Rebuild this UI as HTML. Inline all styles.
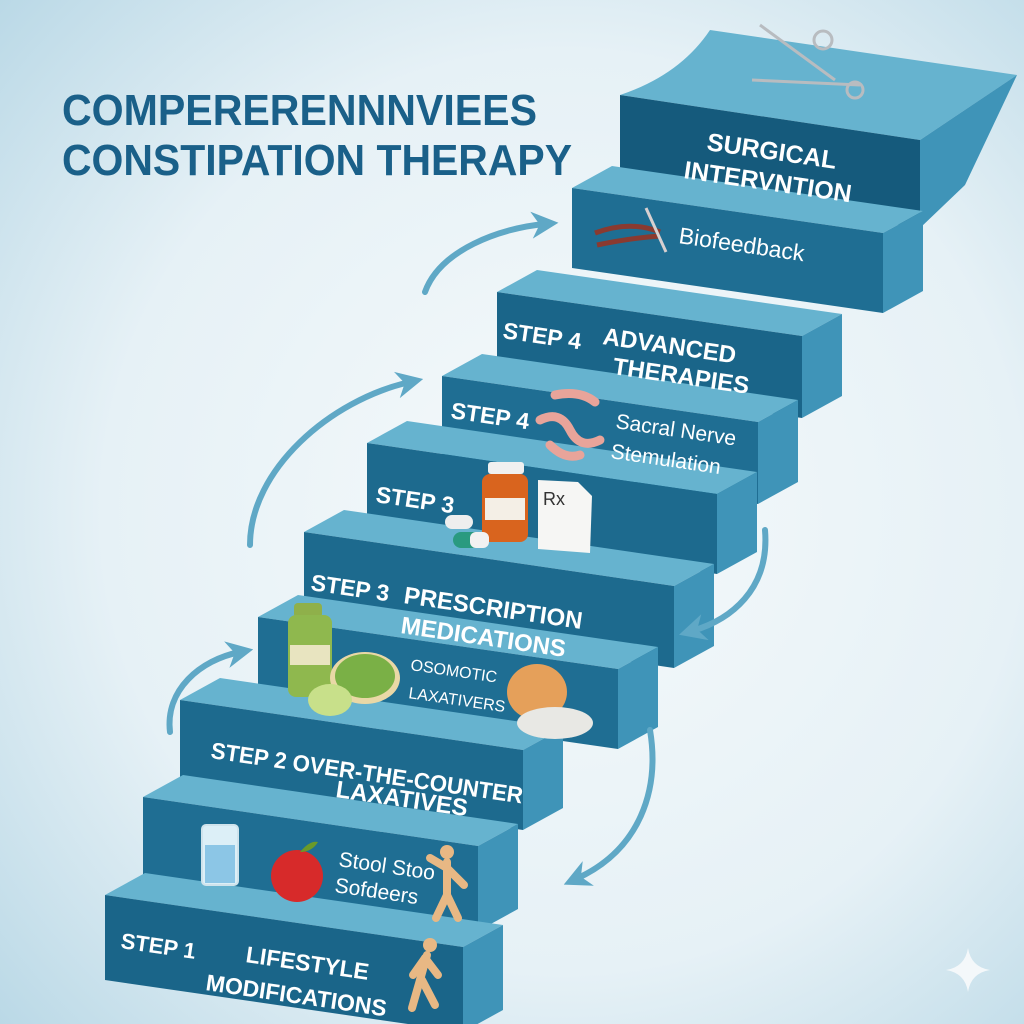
<!DOCTYPE html>
<html><head><meta charset="utf-8"><style>
html,body{margin:0;padding:0;width:1024px;height:1024px;overflow:hidden}
svg{display:block}
text{font-family:"Liberation Sans",sans-serif}
</style></head><body>
<svg width="1024" height="1024" viewBox="0 0 1024 1024" xmlns="http://www.w3.org/2000/svg">
<defs>
<radialGradient id="bg" cx="0.55" cy="0.5" r="0.75">
<stop offset="0" stop-color="#f5f9fb"/><stop offset="0.6" stop-color="#e6f1f6"/><stop offset="1" stop-color="#b9d8e6"/>
</radialGradient>
<marker id="ah" viewBox="0 0 10 10" refX="5" refY="5" markerWidth="4.5" markerHeight="4.5" orient="auto">
<path d="M0,0 L10,5 L0,10 L3,5 Z" fill="#5fa8c6"/>
</marker>
</defs>
<rect width="1024" height="1024" fill="url(#bg)"/>

<!-- title -->
<text x="62" y="125" font-size="44" font-weight="bold" fill="#1a6089" textLength="475" lengthAdjust="spacingAndGlyphs">COMPERERENNNVIEES</text>
<text x="62" y="175" font-size="44" font-weight="bold" fill="#1a6089" textLength="510" lengthAdjust="spacingAndGlyphs">CONSTIPATION THERAPY</text>

<!-- step 10 (top) -->
<path d="M620,95 Q680,75 710,30 L1017,75 L920,140 Z" fill="#66b3cf"/>
<polygon points="920,140 1017,75 965,185 920,228" fill="#3f94b8"/>
<polygon points="620,95 920,140 920,228 620,183" fill="#155a7c"/>
<!-- step 9 -->
<polygon points="572,188 883,233 923,211 612,166" fill="#66b3cf"/>
<polygon points="883,233 923,211 923,291 883,313" fill="#3f94b8"/>
<polygon points="572,188 883,233 883,313 572,268" fill="#1f6e93"/>
<!-- step 8 -->
<polygon points="497,292 802,336 842,314 537,270" fill="#66b3cf"/>
<polygon points="802,336 842,314 842,396 802,418" fill="#3f94b8"/>
<polygon points="497,292 802,336 802,418 497,374" fill="#1a6589"/>
<!-- step 7 -->
<polygon points="442,376 758,422 798,400 482,354" fill="#66b3cf"/>
<polygon points="758,422 798,400 798,482 758,504" fill="#3f94b8"/>
<polygon points="442,376 758,422 758,504 442,458" fill="#1f6e93"/>
<!-- step 6 -->
<polygon points="367,443 717,494 757,472 407,421" fill="#66b3cf"/>
<polygon points="717,494 757,472 757,552 717,574" fill="#3f94b8"/>
<polygon points="367,443 717,494 717,574 367,523" fill="#1d6a8e"/>
<!-- step 5 -->
<polygon points="304,532 674,586 714,564 344,510" fill="#66b3cf"/>
<polygon points="674,586 714,564 714,646 674,668" fill="#3f94b8"/>
<polygon points="304,532 674,586 674,668 304,614" fill="#1d6a8e"/>
<!-- step 4 -->
<polygon points="258,617 618,669 658,647 298,595" fill="#66b3cf"/>
<polygon points="618,669 658,647 658,727 618,749" fill="#3f94b8"/>
<polygon points="258,617 618,669 618,749 258,697" fill="#1f6e93"/>
<!-- step 3 -->
<polygon points="180,700 523,750 563,728 220,678" fill="#66b3cf"/>
<polygon points="523,750 563,728 563,808 523,830" fill="#3f94b8"/>
<polygon points="180,700 523,750 523,830 180,780" fill="#1d6a8e"/>
<!-- step 2 -->
<polygon points="143,797 478,846 518,824 183,775" fill="#66b3cf"/>
<polygon points="478,846 518,824 518,909 478,931" fill="#3f94b8"/>
<polygon points="143,797 478,846 478,931 143,882" fill="#1f6e93"/>
<!-- step 1 -->
<polygon points="105,895 463,947 503,925 145,873" fill="#66b3cf"/>
<polygon points="463,947 503,925 503,1010 463,1032" fill="#3f94b8"/>
<polygon points="105,895 463,947 463,1032 105,980" fill="#1a6589"/>

<!-- arrows -->
<g fill="none" stroke="#5fa8c6" stroke-width="6" stroke-linecap="round" marker-end="url(#ah)">
<path d="M250,545 C250,470 330,400 410,382"/>
<path d="M425,292 C440,250 500,228 545,224"/>
<path d="M170,732 C165,690 200,660 240,652"/>
<path d="M765,530 C770,590 730,620 692,631"/>
<path d="M650,730 C660,790 640,850 576,879"/>
</g>

<!-- icons -->
<g stroke="#b8bcc0" stroke-width="3" fill="none">
<line x1="760" y1="25" x2="835" y2="80"/><line x1="752" y1="80" x2="860" y2="85"/>
<circle cx="823" cy="40" r="9"/><circle cx="855" cy="90" r="8"/>
</g>
<g stroke="#8a3a30" stroke-width="5" fill="none"><path d="M595,233 Q630,220 660,232 M597,245 Q630,238 660,236"/></g>
<line x1="646" y1="208" x2="666" y2="252" stroke="#d8d0d0" stroke-width="3"/>
<g stroke="#e8a49a" stroke-width="9" fill="none" stroke-linecap="round">
<path d="M555,395 Q580,390 595,402"/><path d="M540,420 Q560,410 570,430 Q580,450 600,440"/><path d="M550,445 Q565,460 580,455"/>
</g>
<rect x="488" y="462" width="36" height="12" rx="3" fill="#f0f0f0"/>
<rect x="482" y="474" width="46" height="68" rx="8" fill="#d9641e"/>
<rect x="485" y="498" width="40" height="22" fill="#f4efe6"/>
<rect x="445" y="515" width="28" height="14" rx="7" fill="#eee"/>
<rect x="453" y="532" width="36" height="16" rx="8" fill="#2a9a80"/>
<rect x="470" y="532" width="19" height="16" rx="6" fill="#f2f2f2"/>
<polygon points="538,480 578,482 592,496 590,553 538,549" fill="#f6f6f4"/>
<text x="543" y="505" font-size="18" font-family="Liberation Serif,serif" fill="#333">Rx</text>
<rect x="294" y="603" width="28" height="15" rx="4" fill="#8fb04a"/>
<rect x="288" y="615" width="44" height="82" rx="8" fill="#8fb84e"/>
<rect x="290" y="645" width="40" height="20" fill="#e8e4c0"/>
<ellipse cx="365" cy="678" rx="35" ry="26" fill="#e9d8a6"/>
<ellipse cx="365" cy="676" rx="30" ry="22" fill="#7ab046"/>
<ellipse cx="330" cy="700" rx="22" ry="16" fill="#c8e08a"/>
<ellipse cx="537" cy="692" rx="30" ry="28" fill="#e5a05a"/>
<ellipse cx="555" cy="723" rx="38" ry="16" fill="#e8e8e4"/>
<rect x="202" y="825" width="36" height="60" rx="4" fill="#dceff7" stroke="#cfe3ec" stroke-width="2"/>
<rect x="205" y="845" width="30" height="38" fill="#8cc6e6"/>
<circle cx="297" cy="876" r="26" fill="#d72a2a"/>
<path d="M300,852 q10,-12 18,-10 q-6,10 -18,10" fill="#6a9a2a"/>
<g stroke="#e8b884" stroke-width="8" stroke-linecap="round" fill="none">
<line x1="447" y1="862" x2="447" y2="895"/><line x1="447" y1="895" x2="436" y2="918"/><line x1="447" y1="895" x2="458" y2="918"/>
<line x1="447" y1="868" x2="430" y2="858"/><line x1="447" y1="868" x2="464" y2="885"/>
<line x1="427" y1="955" x2="420" y2="980"/><line x1="420" y1="980" x2="412" y2="1008"/><line x1="422" y1="980" x2="435" y2="1005"/><line x1="425" y1="958" x2="438" y2="975"/><line x1="425" y1="958" x2="413" y2="975"/>
</g>
<circle cx="447" cy="852" r="7" fill="#e8b884"/><circle cx="430" cy="945" r="7" fill="#e8b884"/>

<!-- labels -->
<g fill="#fff" font-weight="bold">
<text transform="translate(706,150) rotate(8.3)" font-size="25">SURGICAL</text>
<text transform="translate(683,178) rotate(8.3)" font-size="25">INTERVNTION</text>
<text transform="translate(502,338) rotate(8.3)" font-size="23">STEP 4</text>
<text transform="translate(602,344) rotate(8.3)" font-size="24">ADVANCED</text>
<text transform="translate(612,374) rotate(8.3)" font-size="24">THERAPIES</text>
<text transform="translate(450,418) rotate(8.3)" font-size="23">STEP 4</text>
<text transform="translate(375,502) rotate(8.3)" font-size="23">STEP 3</text>
<text transform="translate(310,590) rotate(8.3)" font-size="23">STEP 3</text>
<text transform="translate(403,603) rotate(8.3)" font-size="24">PRESCRIPTION</text>
<text transform="translate(400,633) rotate(8.3)" font-size="24">MEDICATIONS</text>
<text transform="translate(210,758) rotate(8.3)" font-size="23" textLength="315" lengthAdjust="spacingAndGlyphs">STEP 2 OVER-THE-COUNTER</text>
<text transform="translate(335,797) rotate(8.3)" font-size="24">LAXATIVES</text>
<text transform="translate(120,948) rotate(8.3)" font-size="22">STEP 1</text>
<text transform="translate(245,962) rotate(8.3)" font-size="23">LIFESTYLE</text>
<text transform="translate(205,990) rotate(8.3)" font-size="23">MODIFICATIONS</text>
</g>
<g fill="#fff">
<text transform="translate(678,243) rotate(8.3)" font-size="23">Biofeedback</text>
<text transform="translate(615,428) rotate(8.3)" font-size="21">Sacral Nerve</text>
<text transform="translate(610,458) rotate(8.3)" font-size="21">Stemulation</text>
<text transform="translate(410,670) rotate(8.3)" font-size="16">OSOMOTIC</text>
<text transform="translate(408,698) rotate(8.3)" font-size="16">LAXATIVERS</text>
<text transform="translate(338,866) rotate(8.3)" font-size="21">Stool Stoo</text>
<text transform="translate(334,892) rotate(8.3)" font-size="21">Sofdeers</text>
</g>

<path d="M968,948 Q971,967 990,970 Q971,973 968,992 Q965,973 946,970 Q965,967 968,948 Z" fill="#f4f8fa"/>
</svg>
</body></html>
